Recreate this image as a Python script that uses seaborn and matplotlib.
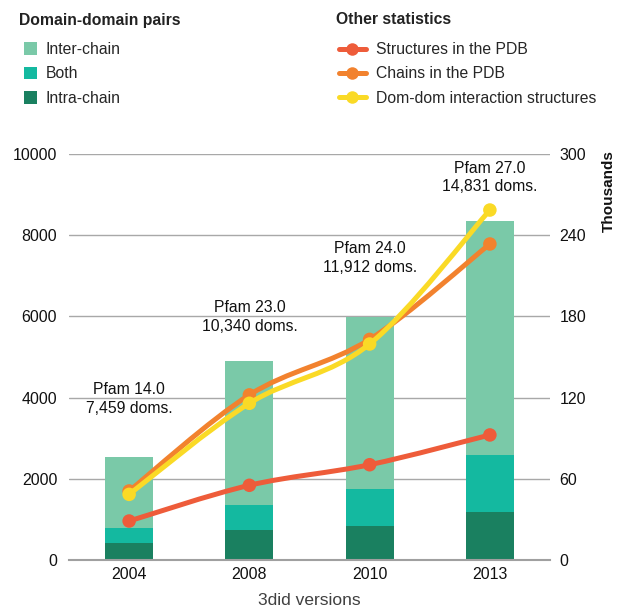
import numpy as np
import pandas as pd
import matplotlib
matplotlib.use("Agg")
import matplotlib.pyplot as plt
from matplotlib.path import Path
from matplotlib.patches import PathPatch, Patch
from matplotlib.lines import Line2D
import seaborn as sns

# ---------------- data ----------------
versions = ["2004", "2008", "2010", "2013"]
intra_chain = [410, 730, 837, 1182]
both = [380, 617, 912, 1396]
inter_chain = [1750, 3543, 4248, 5772]

structures_pdb = [28.8, 55.2, 70.4, 92.4]      # thousands
chains_pdb = [51.0, 122.0, 163.0, 233.5]        # thousands
domdom_structures = [48.5, 115.8, 159.6, 258.6]  # thousands

pfam_labels = ["Pfam 14.0\n7,459 doms.", "Pfam 23.0\n10,340 doms.",
               "Pfam 24.0\n11,912 doms.", "Pfam 27.0\n14,831 doms."]
pfam_label_y = [3966, 5985, 7438, 9421]  # layout positions on left axis

left_ticks = [0, 2000, 4000, 6000, 8000, 10000]
right_ticks = [0, 60, 120, 180, 240, 300]

# ---------------- style ----------------
sns.set_theme(style="white")
plt.rcParams["font.family"] = ["Liberation Sans", "DejaVu Sans"]

C_INTER = "#7AC9A8"
C_BOTH = "#14B9A0"
C_INTRA = "#1A8060"
C_STRUCT = "#EE5C3A"
C_CHAINS = "#F2822E"
C_DOMDOM = "#FADA26"

FS = 11.3
W, H = 617, 609

fig = plt.figure(figsize=(6.17, 6.09), dpi=100)
ax = fig.add_axes([69 / W, 49 / H, 481 / W, 406 / H])

df = pd.DataFrame({"version": versions,
                   "intra": intra_chain, "both": both, "inter": inter_chain})
df["top_both"] = df["intra"] + df["both"]
df["top_inter"] = df["top_both"] + df["inter"]

sns.barplot(data=df, x="version", y="top_inter", color=C_INTER, width=0.4,
            saturation=1, ax=ax, edgecolor="none")
sns.barplot(data=df, x="version", y="top_both", color=C_BOTH, width=0.4,
            saturation=1, ax=ax, edgecolor="none")
sns.barplot(data=df, x="version", y="intra", color=C_INTRA, width=0.4,
            saturation=1, ax=ax, edgecolor="none")

ax.set_xlim(-0.5, 3.5)
ax.set_ylim(0, 10000)
ax.set_yticks(left_ticks)
ax.set_yticklabels([str(t) for t in left_ticks])
ax.yaxis.grid(True, color="#A8A8A8", linewidth=1.0)
ax.set_axisbelow(True)
for s in ["left", "right", "top"]:
    ax.spines[s].set_visible(False)
ax.spines["bottom"].set_color("#A0A0A0")
ax.spines["bottom"].set_linewidth(1.5)
ax.tick_params(axis="both", length=0, labelsize=11.5, colors="#111111")
ax.tick_params(axis="y", pad=8.5)
ax.tick_params(axis="x", pad=5)
ax.set_xlabel("3did versions", fontsize=12.5, color="#404040", labelpad=8)
ax.set_ylabel("")

for i, (lab, yv) in enumerate(zip(pfam_labels, pfam_label_y)):
    ax.text(i, yv, lab, ha="center", va="center", fontsize=FS,
            color="#111111", linespacing=1.32, zorder=6)

# ---------------- right axis: lines ----------------
ax2 = ax.twinx()
ax2.set_ylim(0, 300)
ax2.set_yticks(right_ticks)
ax2.set_yticklabels([str(t) for t in right_ticks])
for s in ["left", "right", "top", "bottom"]:
    ax2.spines[s].set_visible(False)
ax2.tick_params(axis="y", length=0, labelsize=11.5, pad=7, colors="#111111")
ax2.set_ylabel("Thousands", fontsize=11, fontweight="bold", loc="top",
               color="#111111")
ax2.yaxis.set_label_coords((602 - 69) / 481, 1.01)


def smooth_path(xs, ys):
    pts = np.column_stack([xs, ys]).astype(float)
    ext = np.vstack([pts[0], pts, pts[-1]])
    verts = [pts[0]]
    codes = [Path.MOVETO]
    for i in range(len(pts) - 1):
        p0, p1, p2, p3 = ext[i], ext[i + 1], ext[i + 2], ext[i + 3]
        c1 = p1 + (p2 - p0) / 6.0
        c2 = p2 - (p3 - p1) / 6.0
        verts += [c1, c2, p2]
        codes += [Path.CURVE4] * 3
    return Path(verts, codes)


xpos = np.arange(len(versions))
LW = 3.6
for series, col, z in [(structures_pdb, C_STRUCT, 3),
                       (chains_pdb, C_CHAINS, 4),
                       (domdom_structures, C_DOMDOM, 5)]:
    patch = PathPatch(smooth_path(xpos, series), facecolor="none",
                      edgecolor=col, linewidth=LW, capstyle="round",
                      joinstyle="round", zorder=z)
    ax2.add_patch(patch)
    sns.scatterplot(x=xpos, y=series, color=col, s=95, edgecolor="none",
                    ax=ax2, zorder=z + 0.5, legend=False)

ax2.set_xlim(-0.5, 3.5)

# ---------------- legends ----------------
fig.text(19 / W, 1 - 20 / H, "Domain-domain pairs", ha="left", va="center",
         fontsize=FS, fontweight="bold", color="#222222")
fig.text(336 / W, 1 - 20 / H, "Other statistics", ha="left", va="center",
         fontsize=FS, fontweight="bold", color="#222222")

h1 = [Patch(facecolor=C_INTER, edgecolor="none"),
      Patch(facecolor=C_BOTH, edgecolor="none"),
      Patch(facecolor=C_INTRA, edgecolor="none")]
leg1 = fig.legend(h1, ["Inter-chain", "Both", "Intra-chain"],
                  loc="upper left", bbox_to_anchor=(24 / W, 1 - 42 / H),
                  frameon=False, fontsize=FS, borderpad=0, borderaxespad=0,
                  handlelength=0.83, handleheight=0.83, handletextpad=0.57,
                  labelspacing=0.6)

h2 = [Line2D([0], [0], color=c, linewidth=LW, marker="o", markersize=9,
             markeredgewidth=0, solid_capstyle="round")
      for c in [C_STRUCT, C_CHAINS, C_DOMDOM]]
leg2 = fig.legend(h2, ["Structures in the PDB", "Chains in the PDB",
                       "Dom-dom interaction structures"],
                  loc="upper left", bbox_to_anchor=(339 / W, 1 - 42 / H),
                  frameon=False, fontsize=FS, borderpad=0, borderaxespad=0,
                  handlelength=1.72, handletextpad=0.64, labelspacing=0.6)

fig.savefig("out.png", dpi=100)
